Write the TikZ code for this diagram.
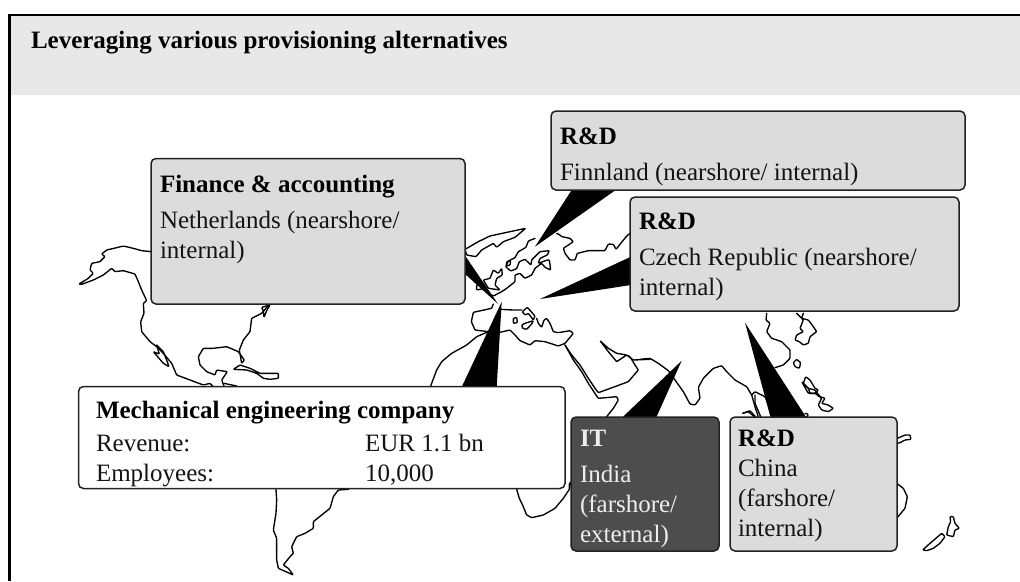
\documentclass[tikz,border=0pt]{standalone}
\usepackage{fontspec}
\setmainfont{Liberation Serif}
\definecolor{band}{HTML}{E8E8E8}
\definecolor{boxgray}{HTML}{DCDCDC}
\definecolor{boxdark}{HTML}{4D4D4D}
\definecolor{boxline}{HTML}{222222}
\definecolor{lighttext}{HTML}{EEEEEE}
\tikzset{
  box/.style={draw=boxline,line width=1.5pt,rounded corners=5pt,anchor=north west,inner sep=0pt,outer sep=0pt},
  lab/.style={anchor=base west,inner sep=0pt,outer sep=0pt,font=\fontsize{25}{29}\selectfont,text=black!92},
  hd/.style={lab,font=\fontsize{25}{29}\selectfont\bfseries,text=black},
  coast/.style={draw=black,line width=1.35pt,line join=round,line cap=round,fill=none,rounded corners=0.8pt},
  wedge/.style={fill=black,draw=none}
}
\begin{document}
\begin{tikzpicture}[x=1pt,y=-1pt]
\useasboundingbox (0,0) rectangle (1020,581);
\fill[white] (0,0) rectangle (1020,581);
\fill[band] (10,16) rectangle (1020,95);
\draw[black,line width=2.5pt] (9.5,581) -- (9.5,15.2) -- (1020,15.2);
% --- map: Americas
\begin{scope}[shift={(0,100)},scale=0.33333]
\draw[coast] (453,455) -- (425,452) -- (400,445) -- (370,438) -- (350,443) -- (320,450) -- (305,462) -- (315,470) -- (300,485) -- (275,490) -- (270,510) -- (280,520) -- (265,535) -- (237,552) -- (245,553) -- (280,540) -- (310,525) -- (335,505) -- (345,515) -- (370,512) -- (405,522) -- (415,545) -- (425,570) -- (440,602) -- (430,610) -- (432,640) -- (422,665) -- (425,695) -- (450,725) -- (470,740) -- (490,760) -- (515,790) -- (530,825) -- (570,840) -- (610,855) -- (630,850) -- (640,860);
\draw[coast] (470,735) -- (490,755) -- (500,780) -- (507,800) -- (490,790) -- (460,755) -- (478,762) -- (470,735);
\draw[coast] (672,858) -- (665,840) -- (682,815) -- (650,810) -- (645,825) -- (620,815) -- (600,795) -- (595,770) -- (610,745) -- (640,745) -- (680,740) -- (715,755) -- (733,780) -- (725,790) -- (718,750) -- (730,720) -- (750,695) -- (755,655) -- (785,640) -- (808,613);
\draw[coast] (672,850) -- (710,858);
\draw[coast] (785,622) -- (810,615) -- (800,632) -- (792,652) -- (790,632) -- cycle;
\draw[coast] (700,808) -- (720,795) -- (750,805) -- (780,820) -- (835,820) -- (835,835) -- (810,838) -- (790,835) -- (770,820) -- (740,810) -- cycle;
% west Africa and Iberia
\draw[coast] (1292,858) -- (1310,810) -- (1325,785) -- (1355,760) -- (1400,735) -- (1430,710) -- (1465,695);
\draw[coast] (1480,612) -- (1475,625) -- (1420,637) -- (1414,665) -- (1425,690) -- (1465,695);
\end{scope}
\begin{scope}[shift={(0,380)},scale=0.33333]
\draw[coast] (828,328) -- (830,360) -- (828,400) -- (820,450) -- (830,475) -- (830,540) -- (835,565) -- (880,585) -- (865,565) -- (850,555) -- (870,530) -- (880,520) -- (875,500) -- (890,470) -- (915,460) -- (940,445) -- (940,425) -- (965,405) -- (990,385) -- (1000,350) -- (1015,330) -- (1045,328);
\end{scope}
% --- map: Europe and Russia
\begin{scope}[shift={(460,210)},scale=0.33333]
\draw[coast] (197,55) -- (150,65) -- (90,78) -- (55,95) -- (15,118) -- (20,135) -- (48,140) -- (65,120) -- (100,100) -- (110,112) -- (130,95) -- (165,82) -- cycle;
\draw[coast] (290,70) -- (300,75) -- (305,80) -- (330,85) -- (340,95) -- (325,105) -- (310,115) -- (315,130) -- (330,150) -- (345,150) -- (352,130) -- (385,122) -- (435,122) -- (445,102) -- (460,103) -- (468,118) -- (500,78) -- (510,70);
\draw[coast] (225,85) -- (205,93) -- (198,112) -- (175,125) -- (165,143) -- (145,153) -- (137,170) -- (152,183) -- (170,176) -- (178,155) -- (195,148) -- (213,165) -- (215,150) -- (240,125) -- (268,122) -- (262,135) -- (240,145) -- (235,160) -- (262,150) -- (268,150) -- (272,180) -- (255,172) -- (245,160) -- (225,175) -- (215,195) -- (195,205) -- (180,190) -- (165,195) -- (165,215) -- (140,235) -- (125,245) -- (100,258) -- (85,250);
\draw[coast] (100,180) -- (115,190) -- (125,175) -- (127,195) -- (110,205) -- (105,225) -- (120,240) -- (85,235) -- (70,210) -- (90,205) -- cycle;
\draw[coast] (50,225) -- (70,220) -- (75,235) -- (50,240) -- cycle;
\draw[coast] (140,155) -- (152,152) -- (150,165) -- (140,168) -- cycle;
\end{scope}
% --- map: Mediterranean, Arabia
\begin{scope}[shift={(470,300)},scale=0.33333]
\draw[coast] (90,28) -- (130,30) -- (155,30);
\draw[coast] (90,97) -- (120,90) -- (135,105) -- (150,122) -- (180,135) -- (195,122) -- (225,125) -- (265,138) -- (285,130) -- (310,100) -- (300,92) -- (265,98) -- (250,95) -- (240,70) -- (230,55) -- (222,60) -- (215,82) -- (205,70) -- (200,55);
\draw[coast] (157,35) -- (172,22) -- (195,48) -- (190,60) -- (175,40) -- (165,45) -- cycle;
\draw[coast] (130,55) -- (140,52) -- (142,68) -- (130,70) -- cycle;
\draw[coast] (155,75) -- (165,70) -- (190,62) -- (185,72) -- (170,88) -- (158,85) -- cycle;
\draw[coast] (285,135) -- (310,180) -- (335,215) -- (355,250) -- (378,285) -- (385,295) -- (440,290) -- (445,300) -- (430,325) -- (410,350);
\draw[coast] (285,135) -- (305,165) -- (330,195) -- (355,235) -- (375,265) -- (385,278) -- (440,258) -- (475,245) -- (505,210) -- (495,195) -- (480,170) -- (470,165) -- (440,185) -- (415,155) -- (390,122) -- (415,145) -- (440,160) -- (470,165) -- (490,180) -- (540,178);
\end{scope}
% --- map: India, Indochina, East Asia
\begin{scope}[shift={(640,300)},scale=0.33333]
\draw[coast] (0,178) -- (30,175) -- (55,190) -- (85,212) -- (105,240) -- (130,275) -- (150,312) -- (165,315) -- (180,295) -- (175,262) -- (190,235) -- (220,205) -- (245,197) -- (260,215) -- (285,240) -- (320,260) -- (335,285) -- (345,320) -- (355,350);
\draw[coast] (335,285) -- (345,275) -- (375,290) -- (390,325);
\draw[coast] (345,285) -- (345,310) -- (362,350);
\draw[coast] (308,340) -- (325,335) -- (345,352);
\draw[coast] (380,40) -- (378,60) -- (390,70) -- (380,95) -- (395,115) -- (425,125) -- (450,150) -- (450,175) -- (430,195) -- (405,203);
\draw[coast] (490,40) -- (485,55) -- (505,60) -- (520,80) -- (530,95) -- (510,110) -- (505,130) -- (490,135) -- (478,125) -- (465,120) -- (470,105) -- (490,95) -- (480,85) -- (490,60) -- (470,40);
\draw[coast] (470,178) -- (482,188) -- (478,205) -- (465,200) -- (460,188) -- cycle;
\draw[coast] (497,230) -- (510,240) -- (525,265) -- (535,270) -- (525,280) -- (510,280) -- (505,265) -- (490,250) -- cycle;
\end{scope}
% --- map: south
\begin{scope}[shift={(500,380)},scale=0.33333]
\draw[coast] (905,5) -- (925,25) -- (945,30) -- (960,50) -- (975,55) -- (965,70) -- (985,75) -- (1000,85) -- (985,95) -- (965,90) -- (955,75) -- (965,55) -- (945,40) -- (925,40) -- cycle;
\draw[coast] (1192,175) -- (1215,165) -- (1230,165) -- (1233,178) -- (1215,180) -- (1200,188) -- (1192,190);
\draw[coast] (1190,310) -- (1210,325) -- (1222,350) -- (1215,385) -- (1190,415);
\draw[coast] (1268,510) -- (1290,490) -- (1325,460) -- (1335,470) -- (1320,490) -- (1300,505) -- (1280,512) -- cycle;
\draw[coast] (1350,410) -- (1360,410) -- (1365,430) -- (1378,445) -- (1365,450) -- (1360,470) -- (1340,465) -- (1345,440) -- (1352,425) -- cycle;
\draw[coast] (728,100) -- (750,92) -- (768,112);
\draw[coast] (915,100) -- (925,103) -- (920,112);
\end{scope}
\begin{scope}[shift={(480,380)},scale=0.33333]
\draw[coast] (110,328) -- (118,355) -- (130,380) -- (140,405) -- (155,413) -- (190,405) -- (225,385) -- (250,355) -- (268,328) -- (272,305) -- (268,312) -- (268,328);
\end{scope}
% --- callout wedges
\coordinate (tipfin) at (498,304);   \coordinate (fina) at (464,254); \coordinate (finb) at (464,273);
\coordinate (tipmech) at (501.7,301.7); \coordinate (meca) at (461.7,387); \coordinate (mecb) at (496.7,387);
\coordinate (tipfi) at (535,246.7);  \coordinate (fia) at (571.7,190); \coordinate (fib) at (615.7,190);
\coordinate (tipcz) at (540,299);    \coordinate (cza) at (631,256.7); \coordinate (czb) at (631,285);
\coordinate (tipin) at (681.7,360.7); \coordinate (ina) at (621.7,418); \coordinate (inb) at (656,418);
\coordinate (tipcn) at (745,322.7);  \coordinate (cna) at (770.7,418); \coordinate (cnb) at (806.7,418);
\fill[wedge] (tipfin) -- (fina) -- (finb) -- cycle;
\fill[wedge] (tipmech) -- (meca) -- (mecb) -- cycle;
\fill[wedge] (tipfi) -- (fia) -- (fib) -- cycle;
\fill[wedge] (tipcz) -- (cza) -- (czb) -- cycle;
\fill[wedge] (tipin) -- (ina) -- (inb) -- cycle;
\fill[wedge] (tipcn) -- (cna) -- (cnb) -- cycle;
% --- boxes
\node[box,fill=boxgray,minimum width=314pt,minimum height=145.5pt] (finance) at (151,158.5) {};
\node[box,fill=boxgray,minimum width=414pt,minimum height=79pt] (finland) at (551,111) {};
\node[box,fill=boxgray,minimum width=329pt,minimum height=114pt] (czech) at (630,197) {};
\node[box,fill=white,minimum width=486.5pt,minimum height=102pt] (mech) at (78.5,386.5) {};
\node[box,fill=boxdark,minimum width=148pt,minimum height=134pt] (it) at (571,417) {};
\node[box,fill=boxgray,minimum width=167pt,minimum height=134pt] (china) at (730,417) {};
% --- text
\node[hd] (title) at (31,48) {Leveraging various provisioning alternatives};
\node[hd] (t1) at (160,192) {Finance \& accounting};
\node[lab] (t2) at (160,228) {Netherlands (nearshore/};
\node[lab] (t3) at (160,258) {internal)};
\node[hd] (t4) at (560,144) {R\&D};
\node[lab] (t5) at (560,180) {Finnland (nearshore/ internal)};
\node[hd] (t6) at (639,229) {R\&D};
\node[lab] (t7) at (639,265) {Czech Republic (nearshore/};
\node[lab] (t8) at (639,295) {internal)};
\node[hd] (t9) at (96,418) {Mechanical engineering company};
\node[lab] (t10) at (96,451) {Revenue:};
\node[lab] (t11) at (365,451) {EUR 1.1 bn};
\node[lab] (t12) at (96,481) {Employees:};
\node[lab] (t13) at (365,481) {10,000};
\node[hd,text=lighttext] (t14) at (580,446) {IT};
\node[lab,text=lighttext] (t15) at (580,482) {India};
\node[lab,text=lighttext] (t16) at (580,512) {(farshore/};
\node[lab,text=lighttext] (t17) at (580,542) {external)};
\node[hd] (t18) at (738,446) {R\&D};
\node[lab] (t19) at (738,476) {China};
\node[lab] (t20) at (738,506) {(farshore/};
\node[lab] (t21) at (738,536) {internal)};
\end{tikzpicture}
\end{document}
